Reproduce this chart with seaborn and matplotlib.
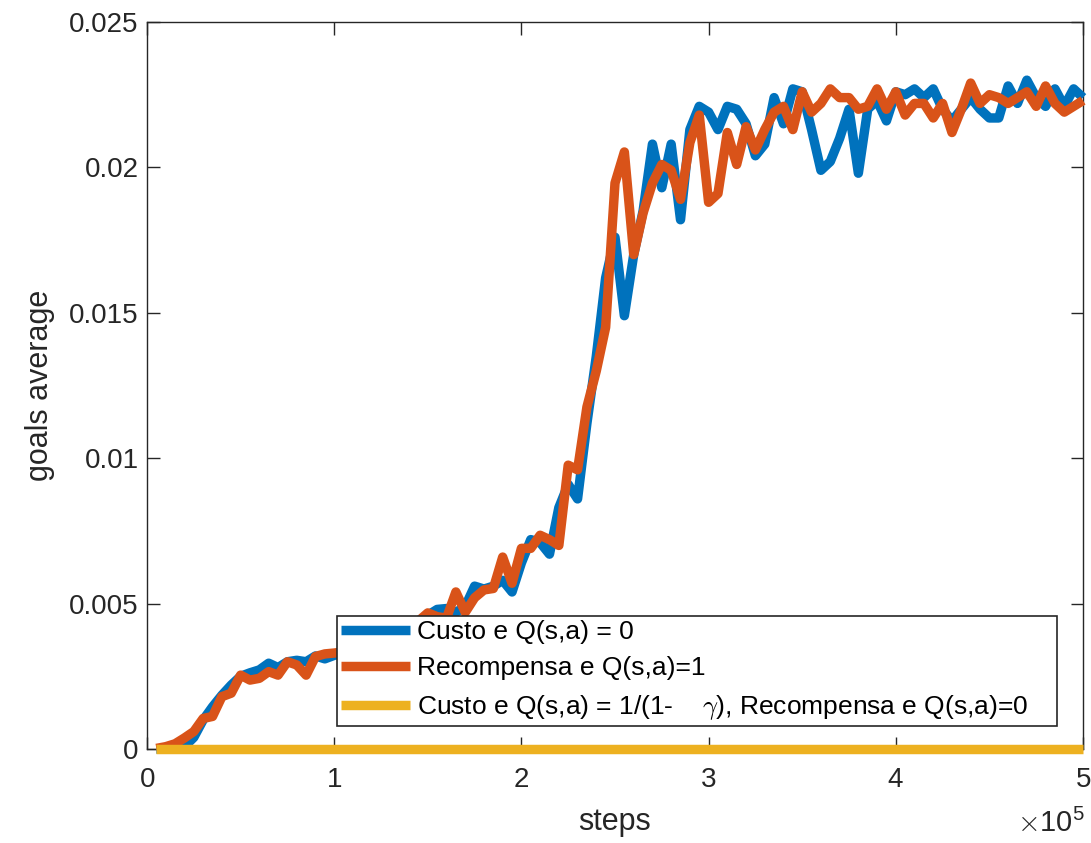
import numpy as np
import pandas as pd
import matplotlib
matplotlib.use("Agg")
import matplotlib.pyplot as plt
from matplotlib.ticker import ScalarFormatter, FuncFormatter, MultipleLocator
import seaborn as sns

# training steps at which the goal average was logged
steps = np.arange(5000, 500001, 5000)

custo_q0 = [
    0.0, 0.0, 0.00002, 0.00008, 0.00040, 0.00100, 0.00145, 0.00185, 0.00220, 0.00250,
    0.00262, 0.00272, 0.00295, 0.00280, 0.00300, 0.00305, 0.00300, 0.00320, 0.00310, 0.00322,
    0.00330, 0.00338, 0.00348, 0.00358, 0.00370, 0.00382, 0.00395, 0.00415, 0.00435, 0.00460,
    0.00480, 0.00483, 0.00470, 0.00490, 0.00560, 0.00550, 0.00560, 0.00580, 0.00540, 0.00640,
    0.00720, 0.00710, 0.00670, 0.00830, 0.00910, 0.00860, 0.01120, 0.01350, 0.01620, 0.01760,
    0.01490, 0.01700, 0.01850, 0.02080, 0.01930, 0.02080, 0.01820, 0.02130, 0.02210, 0.02190,
    0.02130, 0.02210, 0.02200, 0.02150, 0.02040, 0.02080, 0.02240, 0.02150, 0.02270, 0.02260,
    0.02130, 0.01990, 0.02020, 0.02100, 0.02200, 0.01980, 0.02200, 0.02230, 0.02160, 0.02260,
    0.02250, 0.02270, 0.02240, 0.02270, 0.02200, 0.02160, 0.02200, 0.02240, 0.02200, 0.02170,
    0.02170, 0.02280, 0.02220, 0.02300, 0.02240, 0.02210, 0.02270, 0.02210, 0.02270, 0.02240,
]

recompensa_q1 = [
    0.00002, 0.00008, 0.00018, 0.00038, 0.00060, 0.00105, 0.00112, 0.00180, 0.00192, 0.00254,
    0.00237, 0.00243, 0.00266, 0.00254, 0.00300, 0.00289, 0.00254, 0.00318, 0.00327, 0.00330,
    0.00334, 0.00340, 0.00352, 0.00360, 0.00375, 0.00385, 0.00400, 0.00420, 0.00440, 0.00468,
    0.00455, 0.00450, 0.00540, 0.00470, 0.00520, 0.00547, 0.00552, 0.00660, 0.00570, 0.00690,
    0.00690, 0.00735, 0.00720, 0.00700, 0.00976, 0.00960, 0.01176, 0.01300, 0.01450, 0.01946,
    0.02053, 0.01700, 0.01843, 0.01946, 0.02010, 0.01990, 0.01890, 0.02085, 0.02180, 0.01880,
    0.01910, 0.02120, 0.02010, 0.02140, 0.02060, 0.02130, 0.02190, 0.02210, 0.02130, 0.02260,
    0.02190, 0.02220, 0.02270, 0.02240, 0.02240, 0.02200, 0.02210, 0.02270, 0.02200, 0.02260,
    0.02180, 0.02220, 0.02220, 0.02170, 0.02220, 0.02120, 0.02200, 0.02290, 0.02220, 0.02250,
    0.02240, 0.02220, 0.02240, 0.02260, 0.02210, 0.02280, 0.02220, 0.02190, 0.02210, 0.02230,
]

custo_gamma = [0.0] * len(steps)

series_names = [
    "Custo e Q(s,a) = 0",
    "Recompensa e Q(s,a)=1",
    r"Custo e Q(s,a) = 1/(1-    $\gamma$), Recompensa e Q(s,a)=0",
]
colors = ["#0072BD", "#D95319", "#EDB120"]

y_ticks = [0, 0.005, 0.01, 0.015, 0.02, 0.025]

df = pd.concat(
    [
        pd.DataFrame({"steps": steps, "goals": vals, "series": name})
        for name, vals in zip(series_names, [custo_q0, recompensa_q1, custo_gamma])
    ],
    ignore_index=True,
)

sns.set_theme(style="white")
plt.rcParams["font.family"] = ["Liberation Sans", "DejaVu Sans"]
plt.rcParams["mathtext.fontset"] = "cm"

fig = plt.figure(figsize=(10.91, 8.43), dpi=100)
ax = fig.add_axes([147 / 1091, 94 / 843, 936 / 1091, 727 / 843])

LW = 6.8
sns.lineplot(
    data=df, x="steps", y="goals", hue="series", hue_order=series_names,
    palette=colors, linewidth=LW, ax=ax, legend=False,
    solid_capstyle="butt", solid_joinstyle="round",
)
for line in ax.get_lines():
    line.set_clip_on(False)
    line.set_zorder(3)

ax.set_xlim(0, 500000)
ax.set_ylim(0, 0.025)
ax.xaxis.set_major_locator(MultipleLocator(100000))
fmt = ScalarFormatter(useMathText=True)
fmt.set_powerlimits((0, 0))
ax.xaxis.set_major_formatter(fmt)
ax.xaxis.get_offset_text().set_visible(False)
ax.set_yticks(y_ticks)
ax.yaxis.set_major_formatter(FuncFormatter(lambda v, p: "%g" % v))

edge = "#262626"
for s in ax.spines.values():
    s.set_visible(True)
    s.set_color(edge)
    s.set_linewidth(1.0)
ax.tick_params(axis="both", which="major", direction="in", length=9, width=1.0,
               color=edge, labelcolor=edge, labelsize=20, top=True, right=True,
               bottom=True, left=True)
ax.tick_params(axis="x", pad=13)
ax.tick_params(axis="y", pad=6)

# exponent of the step axis, placed under the right end of the axis
ax.text(1.002, -0.082, r"$\times\mathregular{10^{5}}$", transform=ax.transAxes,
        ha="right", va="top", fontsize=21, color=edge)

ax.set_xlabel("steps", fontsize=22, color=edge, labelpad=10)
ax.set_ylabel("goals average", fontsize=22, color=edge, labelpad=10)

handles = [plt.Line2D([], [], color=c, linewidth=LW, solid_capstyle="butt") for c in colors]
leg = ax.legend(
    handles, series_names, loc="lower left",
    bbox_to_anchor=(0.203, 0.032, 0.769, 0.154), mode="expand",
    fontsize=19, frameon=True, fancybox=False, framealpha=1.0,
    edgecolor=edge, handlelength=2.6, handletextpad=0.3,
    borderpad=0.15, labelspacing=0.47, borderaxespad=0.0,
)
leg.set_zorder(10)
leg.get_frame().set_linewidth(1.2)
for t in leg.get_texts():
    t.set_color("#000000")

fig.savefig("out.png", dpi=100, facecolor="white")
